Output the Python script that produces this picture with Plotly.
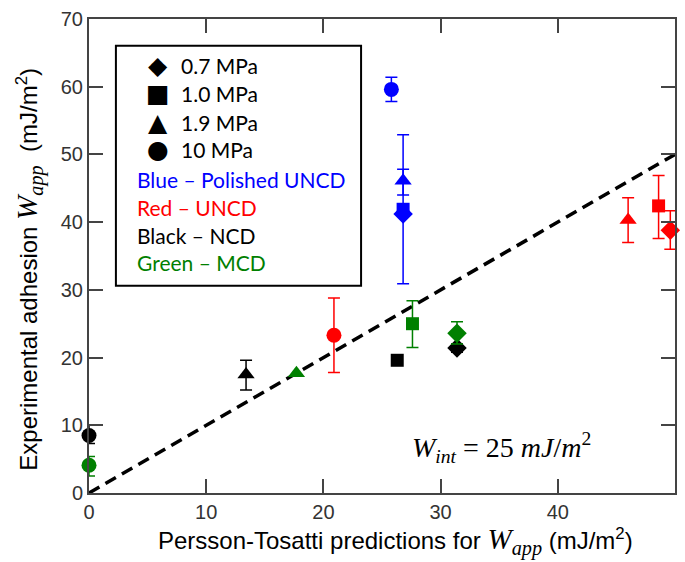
import plotly.graph_objects as go

# Persson-Tosatti predicted vs measured apparent work of adhesion (mJ/m^2)
# One list per film type; order within each: 0.7, 1.0, 1.9, 10 MPa
pressures = ["0.7 MPa", "1.0 MPa", "1.9 MPa", "10 MPa"]
symbols = ["diamond", "square", "triangle-up", "circle"]

blue_pred = [26.8, 26.8, 26.8, 25.8]
blue_exp = [41.2, 41.9, 46.1, 59.6]
blue_err_plus = [0.0, 11.0, 1.7, 1.8]
blue_err_minus = [0.0, 11.0, 2.1, 1.8]

red_pred = [49.6, 48.6, 46.0, 20.9]
red_exp = [38.8, 42.4, 40.3, 23.3]
red_err_plus = [2.9, 4.5, 3.3, 5.5]
red_err_minus = [2.8, 4.8, 3.3, 5.5]

black_pred = [31.4, 26.3, 13.4, 0.0]
black_exp = [21.4, 19.6, 17.5, 8.5]
black_err_plus = [0.6, 0.0, 2.1, 1.5]
black_err_minus = [0.6, 0.0, 2.3, 1.2]

green_pred = [31.4, 27.6, 17.7, 0.0]
green_exp = [23.6, 25.0, 17.7, 4.1]
green_err_plus = [1.7, 3.4, 0.0, 1.3]
green_err_minus = [1.6, 3.5, 0.0, 1.6]

groups = [
    ("Polished UNCD", "#0000ff", blue_pred, blue_exp, blue_err_plus, blue_err_minus),
    ("UNCD", "#ff0000", red_pred, red_exp, red_err_plus, red_err_minus),
    ("NCD", "#000000", black_pred, black_exp, black_err_plus, black_err_minus),
    ("MCD", "#008000", green_pred, green_exp, green_err_plus, green_err_minus),
]

# 1:1 reference line
line_x = [0, 50]
line_y = [0, 50]

fig = go.Figure()
fig.add_trace(go.Scatter(
    x=line_x, y=line_y, mode="lines",
    line=dict(color="black", width=3.5, dash="12px,7px"),
    showlegend=False, hoverinfo="skip",
))

for name, color, xs, ys, ep, em in groups:
    for i in range(len(xs)):
        fig.add_trace(go.Scatter(
            x=[xs[i]], y=[ys[i]], mode="markers",
            name=f"{name} {pressures[i]}",
            marker=dict(symbol=symbols[i], color=color,
                        size=13 if symbols[i] == "square" else 15,
                        line=dict(width=0)),
            error_y=dict(type="data", symmetric=False,
                         array=[ep[i]], arrayminus=[em[i]],
                         color=color, thickness=1.5, width=6,
                         visible=(ep[i] > 0 or em[i] > 0)),
            cliponaxis=False,
            showlegend=False,
        ))

axis_common = dict(
    showline=True, linecolor="#444", linewidth=2,
    mirror="ticks", ticks="inside", ticklen=14, tickwidth=2, tickcolor="#444",
    showgrid=False, zeroline=False,
    tickfont=dict(family="Liberation Sans, Arial, sans-serif", size=20, color="#333"),
)

wapp = ("<span style='font-family:Liberation Serif;font-size:29px'>"
        "<i>W</i><sub><i>app</i></sub></span>")

fig.update_layout(
    width=685, height=562,
    margin=dict(l=89, r=8, t=15, b=69),
    plot_bgcolor="white", paper_bgcolor="white",
    xaxis=dict(range=[0, 50], dtick=10, **axis_common,
               title=dict(text="&nbsp;&nbsp;&nbsp;&nbsp;Persson-Tosatti predictions for "
                               + wapp + " (mJ/m<sup>2</sup>)",
                          font=dict(family="Liberation Sans, Arial, sans-serif", size=24, color="black"),
                          standoff=10)),
    yaxis=dict(range=[0, 70], dtick=10, **axis_common,
               title=dict(text="Experimental adhesion " + wapp
                               + "  (mJ/m<sup>2</sup>)&nbsp;&nbsp;&nbsp;&nbsp;",
                          font=dict(family="Liberation Sans, Arial, sans-serif", size=24, color="black"),
                          standoff=16)),
    showlegend=False,
)

# Legend box drawn as shape + text lines
fig.add_shape(type="rect", xref="paper", yref="paper",
              x0=(116 - 89) / 588, x1=(362 - 89) / 588,
              y0=(493 - 284) / 478, y1=(493 - 42) / 478,
              line=dict(color="black", width=2), fillcolor="white", layer="above")

legend_font = "Lato, Open Sans, sans-serif"
glyphs = ["\u25C6", "\u25A0", "\u25B2", "\u25CF"]
row_y = [62, 90, 119, 147, 177, 205, 233, 261]
for i, label in enumerate(pressures):
    yp = (493 - row_y[i]) / 478
    fig.add_annotation(xref="paper", yref="paper", x=(158 - 89) / 588, y=yp,
                       text=glyphs[i], showarrow=False, xanchor="center", yanchor="middle",
                       font=dict(family="DejaVu Sans", size=25, color="black"))
    fig.add_annotation(xref="paper", yref="paper", x=(179 - 89) / 588, y=yp,
                       text=label, showarrow=False, xanchor="left", yanchor="middle",
                       font=dict(family=legend_font, size=21, color="black"))

color_lines = [("Blue \u2013 Polished UNCD", "#0000ff"),
               ("Red \u2013 UNCD", "#ff0000"),
               ("Black \u2013 NCD", "#000000"),
               ("Green \u2013 MCD", "#008000")]
for j, (txt, col) in enumerate(color_lines):
    yp = (493 - row_y[4 + j]) / 478
    fig.add_annotation(xref="paper", yref="paper", x=(135 - 89) / 588, y=yp,
                       text=txt, showarrow=False, xanchor="left", yanchor="middle",
                       font=dict(family=legend_font, size=21, color=col))

fig.add_annotation(xref="paper", yref="paper", x=(411 - 89) / 588, y=(493 - 447) / 478,
                   text="<i>W</i><sub><i>int</i></sub> = 25 <i>mJ</i>/<i>m</i><sup>2</sup>",
                   showarrow=False, xanchor="left", yanchor="middle",
                   font=dict(family="Liberation Serif, DejaVu Serif, serif", size=28, color="black"))

fig.write_html("out.html")
